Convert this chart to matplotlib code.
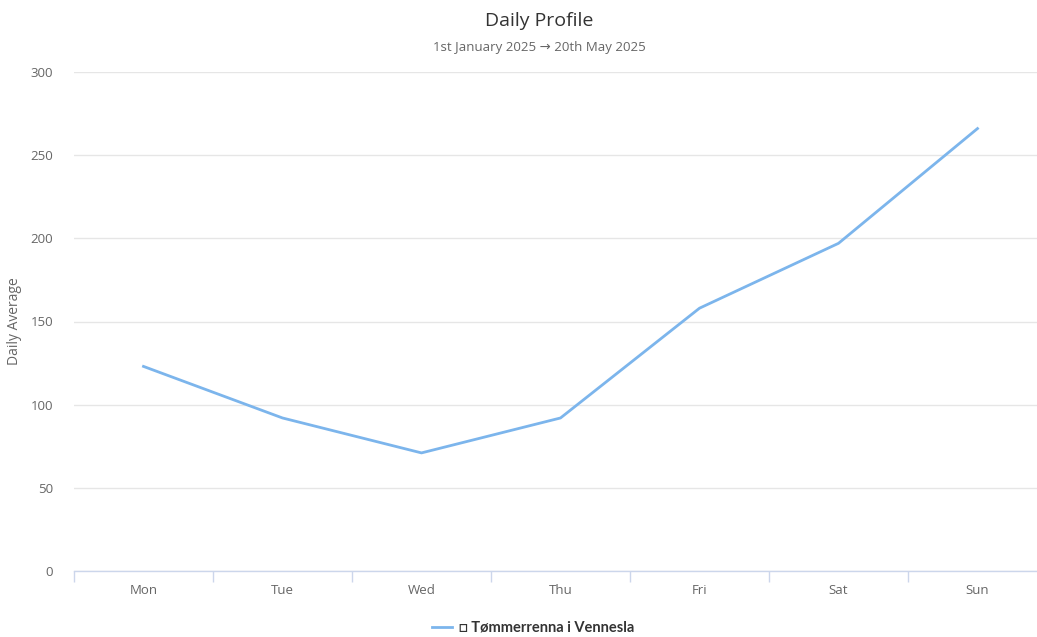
import matplotlib.pyplot as plt
from matplotlib.ticker import FixedLocator

days = ["Mon", "Tue", "Wed", "Thu", "Fri", "Sat", "Sun"]
daily_avg = [123, 92, 71, 92, 158, 197, 266]
series_name = "\u25a1 Tømmerrenna i Vennesla"
y_ticks = [0, 50, 100, 150, 200, 250, 300]

plt.rcParams["font.family"] = ["Open Sans", "DejaVu Sans"]

W, H = 1037, 637
fig = plt.figure(figsize=(W / 100, H / 100), dpi=100)

# plot area runs a little past the right edge, as in the reference
ax = fig.add_axes([74 / W, 66 / H, 973 / W, 499 / H])

x = list(range(len(days)))
line, = ax.plot(x, daily_avg, color="#7cb5ec", lw=2, solid_joinstyle="round")

ax.set_xlim(-0.5, len(days) - 0.5)
ax.set_ylim(0, 300)
ax.set_yticks(y_ticks)
ax.set_xticks(x)
ax.set_xticklabels(days)
ax.xaxis.set_minor_locator(FixedLocator([i - 0.5 for i in range(len(days) + 1)]))

ax.grid(axis="y", color="#e6e6e6", lw=1)
ax.set_axisbelow(True)
for side in ["top", "right", "left"]:
    ax.spines[side].set_visible(False)
ax.spines["bottom"].set_color("#ccd6eb")
ax.spines["bottom"].set_linewidth(1)

ax.tick_params(axis="y", length=0, pad=15, labelsize=9.5, labelcolor="#666666")
ax.tick_params(axis="x", which="major", length=0, pad=9, labelsize=9.5, labelcolor="#666666")
ax.tick_params(axis="x", which="minor", length=8, width=1, color="#ccd6eb")

ax.set_ylabel("Daily Average", fontsize=10, color="#666666")
ax.yaxis.set_label_coords(-52 / 973, 0.5)

fig.text(539 / W, 1 - 21 / H, "Daily Profile", ha="center", va="center",
         fontsize=14, color="#333333")
fig.text(539 / W, 1 - 48 / H, "1st January 2025 \u2192 20th May 2025", ha="center",
         va="center", fontsize=9.5, color="#666666")

leg = fig.legend([line], [series_name], loc="center", bbox_to_anchor=(533 / W, 1 - 628 / H),
                 frameon=False, handlelength=1.4, handletextpad=0.5,
                 prop={"family": ["Lato", "DejaVu Sans"], "weight": "bold", "size": 10.5})
for t in leg.get_texts():
    t.set_color("#333333")

fig.savefig("out.png", dpi=100)
